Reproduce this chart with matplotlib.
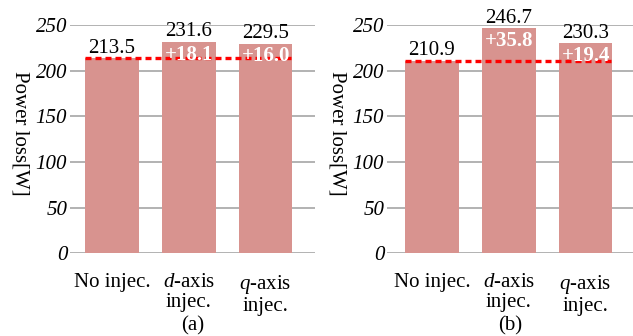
import matplotlib
matplotlib.use("Agg")
import matplotlib.pyplot as plt

plt.rcParams['font.family'] = ['Liberation Serif', 'DejaVu Serif']
plt.rcParams['mathtext.fontset'] = 'custom'
plt.rcParams['mathtext.rm'] = 'Liberation Serif'
plt.rcParams['mathtext.it'] = 'Liberation Serif:italic'

categories = ['No injec.', '$d$-axis\ninjec.', '$q$-axis\ninjec.']
loss_a = [213.5, 231.6, 229.5]
loss_b = [210.9, 246.7, 230.3]
yticks = [0, 50, 100, 150, 200, 250]
panel_tags = ['(a)', '(b)']

bar_color = '#d8938f'
fs = 15

fig = plt.figure(figsize=(6.33, 3.36), dpi=100)

def draw_panel(rect, values, tag, xlim):
    ax = fig.add_axes(rect)
    x = range(len(values))
    ax.bar(x, values, width=0.7, color=bar_color, zorder=2)
    ax.set_xlim(*xlim)
    ax.set_ylim(0, 250)
    ax.set_yticks(yticks)
    ax.set_yticklabels([str(t) for t in yticks], fontstyle='italic', fontsize=fs)
    ax.set_xticks(list(x))
    ax.set_xticklabels(categories, fontsize=fs, va='top', linespacing=1.1)
    ax.tick_params(axis='y', length=0, pad=2)
    ax.tick_params(axis='x', length=0, pad=14)
    ax.grid(axis='y', color='#a6a6a6', linewidth=1.2, zorder=0)
    for s in ax.spines.values():
        s.set_visible(False)
    base = values[0]
    # baseline reference
    ax.plot([-0.35, len(values) - 1 + 0.35], [base, base], color='red', lw=2.4,
            linestyle=(0, (1.8, 1.2)), zorder=4)
    for i, v in enumerate(values):
        ax.text(i, v + 0.5, f'{v:.1f}', ha='center', va='bottom', fontsize=fs, zorder=5)
        if i > 0:
            ax.text(i, v - 3, f'+{v - base:.1f}', ha='center', va='top', fontsize=fs,
                    color='white', fontweight='bold', zorder=5)
    ax.set_ylabel('Power loss[W]', rotation=-90, fontsize=fs, va='center')
    ax.yaxis.set_label_coords(-0.204, 0.527)
    ax.text(0.5, -0.318, tag, transform=ax.transAxes, ha='center', va='center', fontsize=fs)
    return ax

draw_panel([70 / 633, 82.7 / 336, 245 / 633, 228.3 / 336], loss_a, panel_tags[0], (-0.545, 2.643))
draw_panel([387 / 633, 82.7 / 336, 246 / 633, 228.3 / 336], loss_b, panel_tags[1], (-0.584, 2.617))

fig.savefig('out.png', dpi=100)
